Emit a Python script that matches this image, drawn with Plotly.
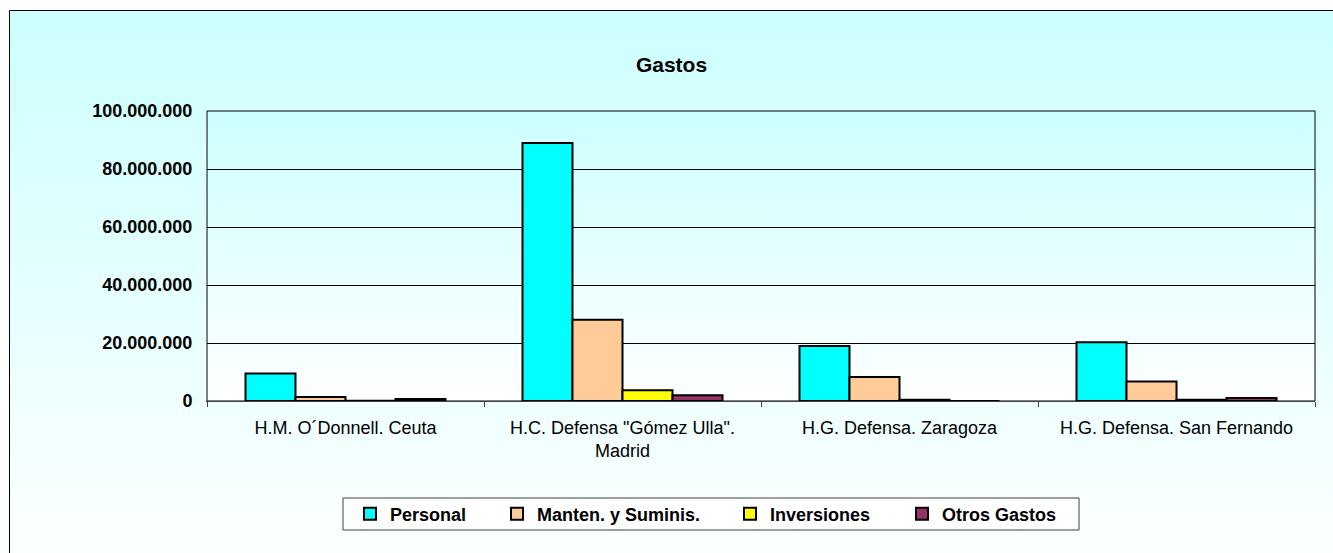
import base64
import plotly.graph_objects as go

# ---- data ----
categories = [
    "H.M. O´Donnell. Ceuta",
    'H.C. Defensa "Gómez Ulla".<br>Madrid',
    "H.G. Defensa. Zaragoza",
    "H.G. Defensa. San Fernando",
]
personal = [9500000, 89000000, 19000000, 20300000]
manten = [1400000, 28000000, 8300000, 6700000]
inversiones = [100000, 3700000, 400000, 400000]
otros = [700000, 2000000, 0, 1000000]

series_names = ["Personal", "Manten. y Suminis.", "Inversiones", "Otros Gastos"]
series_values = [personal, manten, inversiones, otros]
series_colors = ["#00FFFF", "#FFCC99", "#FFFF00", "#993366"]

y_max = 100000000
y_step = 20000000

# ---- geometry (pixels) ----
W, H = 1333, 553
L, R, T, B = 207, 1315, 111, 401
pw, ph = R - L, B - T


def px_x(px):
    return (px - L) / pw


def px_y(py):
    return (B - py) / ph


def grad_uri(c1, c2):
    svg = (
        '<svg xmlns="http://www.w3.org/2000/svg" width="10" height="100" '
        'viewBox="0 0 10 100" preserveAspectRatio="none">'
        '<defs><linearGradient id="g" x1="0" y1="0" x2="0" y2="1">'
        f'<stop offset="0" stop-color="{c1}"/><stop offset="1" stop-color="{c2}"/>'
        '</linearGradient></defs><rect width="10" height="100" fill="url(#g)"/></svg>'
    )
    return "data:image/svg+xml;base64," + base64.b64encode(svg.encode()).decode()


FONT = "Arial, 'Liberation Sans', sans-serif"

fig = go.Figure()
legend_names = ["legend", "legend2", "legend3", "legend4"]
for name, vals, col, lg in zip(series_names, series_values, series_colors, legend_names):
    fig.add_trace(
        go.Bar(
            x=categories,
            y=vals,
            name=name,
            marker=dict(color=col, line=dict(color="#000000", width=2)),
            legend=lg,
        )
    )

legend_text_px = [388, 535, 768, 940]
legend_common = dict(
    orientation="h",
    yanchor="middle",
    y=px_y(514),
    xanchor="left",
    bgcolor="rgba(0,0,0,0)",
    borderwidth=0,
    font=dict(family=FONT, size=18, color="#000000", weight="bold"),
)
legends = {}
for lg, tx in zip(legend_names, legend_text_px):
    legends[lg] = dict(legend_common, x=px_x(tx - 38))

fig.update_layout(
    width=W,
    height=H,
    margin=dict(l=L, r=W - R, t=T, b=H - B, pad=0),
    paper_bgcolor="#FFFFFF",
    plot_bgcolor="rgba(0,0,0,0)",
    separators=",.",
    bargap=0.278,
    bargroupgap=0,
    barmode="group",
    showlegend=True,
    title=dict(
        text="Gastos",
        font=dict(family=FONT, size=21, color="#000000", weight="bold"),
        xref="container",
        yref="container",
        x=671.5 / W,
        y=1 - 65 / H,
        xanchor="center",
        yanchor="middle",
    ),
    xaxis=dict(
        type="category",
        showgrid=False,
        showline=True,
        linecolor="#404040",
        linewidth=1,
        ticks="outside",
        tickson="boundaries",
        ticklen=5,
        tickcolor="#404040",
        tickfont=dict(family=FONT, size=18, color="#000000"),
        ticklabelstandoff=10,
    ),
    yaxis=dict(
        range=[0, y_max],
        dtick=y_step,
        tick0=0,
        tickformat=",.0f",
        showgrid=True,
        gridcolor="#000000",
        gridwidth=1,
        zeroline=False,
        showline=True,
        linecolor="#808080",
        linewidth=1,
        ticks="",
        tickfont=dict(family=FONT, size=18, color="#000000", weight="bold"),
        ticklabelstandoff=10,
    ),
    images=[
        dict(
            source=grad_uri("#CCFFFF", "#FFFFFF"),
            xref="paper", yref="paper",
            x=px_x(9), y=px_y(10),
            sizex=(1345 - 9) / pw, sizey=(580 - 10) / ph,
            xanchor="left", yanchor="top",
            sizing="stretch", layer="below",
        ),
        dict(
            source=grad_uri("#CCFFFF", "#FFFFFF"),
            xref="paper", yref="paper",
            x=0, y=1, sizex=1, sizey=1,
            xanchor="left", yanchor="top",
            sizing="stretch", layer="below",
        ),
    ],
    shapes=[
        dict(
            type="rect", xref="paper", yref="paper",
            x0=px_x(9.5), x1=px_x(1345), y0=px_y(580), y1=px_y(10.5),
            line=dict(color="#000000", width=1), fillcolor="rgba(0,0,0,0)",
            layer="below",
        ),
        dict(
            type="rect", xref="paper", yref="paper",
            x0=0, x1=1, y0=0, y1=1,
            line=dict(color="#000000", width=1), fillcolor="rgba(0,0,0,0)",
            layer="below",
        ),
        dict(
            type="rect", xref="paper", yref="paper",
            x0=px_x(343), x1=px_x(1079), y0=px_y(530), y1=px_y(498),
            line=dict(color="#404040", width=1), fillcolor="#FFFFFF",
            layer="below",
        ),
    ],
    **legends,
)

fig.write_html(
    "out.html",
    config={"displayModeBar": False},
    post_script="document.body.style.margin='0';document.body.style.overflow='hidden';",
)
